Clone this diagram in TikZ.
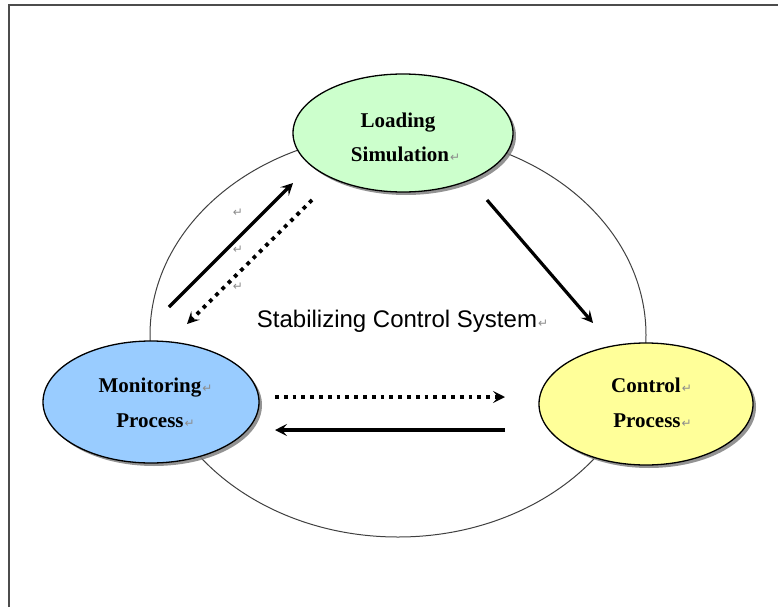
\documentclass[tikz,border=0pt]{standalone}
\usepackage{fontspec}
\setmainfont{Liberation Serif}
\newfontfamily\labelsans{Liberation Sans}
\newfontfamily\marksfont{DejaVu Sans}
\usetikzlibrary{shapes.geometric,arrows.meta,shadows}

\definecolor{loadgreen}{HTML}{CCFFCC}
\definecolor{monblue}{HTML}{99CCFF}
\definecolor{ctrlyellow}{HTML}{FFFF99}

% paragraph mark that does not disturb centring
\newcommand\retmark{\rlap{\kern1pt{\marksfont\mdseries\fontsize{12}{12}\selectfont\color{black!45}↵}}}

\begin{document}
\begin{tikzpicture}[x=1pt,y=-1pt,
  frame/.style={draw=black!70, line width=2pt},
  ring/.style={ellipse, draw=black!75, line width=1pt, inner sep=0pt,
               minimum width=496pt, minimum height=404pt},
  proc/.style={ellipse, draw=black, line width=1.3pt, inner sep=0pt,
               minimum width=216pt, minimum height=122pt,
               drop shadow={shadow xshift=3pt, shadow yshift=-3pt,
                            fill=black!50, opacity=0.85}},
  lbl/.style={font=\fontsize{21}{21}\selectfont\bfseries, inner sep=0pt, anchor=base},
  parmark/.style={font=\marksfont\fontsize{12}{12}\selectfont, text=black!45, inner sep=0pt},
  solidarrow/.style={line width=3.2pt,
               -{Stealth[length=12pt,width=12pt,inset=5pt]}},
  dotarrow/.style={line width=3.8pt, dash pattern=on 3.8pt off 5pt,
               -{Stealth[length=12pt,width=12pt,inset=5pt]}},
]
\useasboundingbox (0,0) rectangle (778,607);

% page frame (top and left edges)
\draw[frame] (9,607) -- (9,5) -- (778,5);

% the enclosing system ring
\node[ring] (ring) at (398,335) {};

% the three processes
\node[proc, fill=loadgreen, minimum width=220pt, minimum height=118pt] (load) at (403,133) {};
\node[proc, fill=monblue] (mon) at (151,402) {};
\node[proc, fill=ctrlyellow, minimum width=214pt] (ctrl) at (646,404) {};

% process labels
\node[lbl] (load-a) at (398,127) {Loading};
\node[lbl] (load-b) at (400,161) {Simulation\retmark};
\node[lbl] (mon-a)  at (150,392) {Monitoring\retmark};
\node[lbl] (mon-b)  at (150,427) {Process\retmark};
\node[lbl] (ctrl-a) at (646,392) {Control\retmark};
\node[lbl] (ctrl-b) at (647,427) {Process\retmark};

% system caption
\node[font=\labelsans\fontsize{24}{24}\selectfont, inner sep=0pt, anchor=base] (cap)
  at (397,327) {Stabilizing Control System\retmark};

% stray paragraph marks
\node[parmark] (m1) at (238,213) {↵};
\node[parmark] (m2) at (238,250) {↵};
\node[parmark] (m3) at (238,287) {↵};

% arrow end points
\coordinate (up-s)  at (169,307);
\coordinate (up-e)  at (293,183);
\coordinate (dn-s)  at (312,200);
\coordinate (dn-e)  at (187,324);
\coordinate (lc-s)  at (487,200);
\coordinate (lc-e)  at (593,323);
\coordinate (mc-s)  at (275,397);
\coordinate (mc-e)  at (505,397);
\coordinate (cm-s)  at (505,430);
\coordinate (cm-e)  at (275,430);

% flows between processes
\draw[solidarrow] (up-s) -- (up-e);
\draw[dotarrow]   (dn-s) -- (dn-e);
\draw[solidarrow] (lc-s) -- (lc-e);
\draw[dotarrow]   (mc-s) -- (mc-e);
\draw[solidarrow] (cm-s) -- (cm-e);
\end{tikzpicture}
\end{document}
